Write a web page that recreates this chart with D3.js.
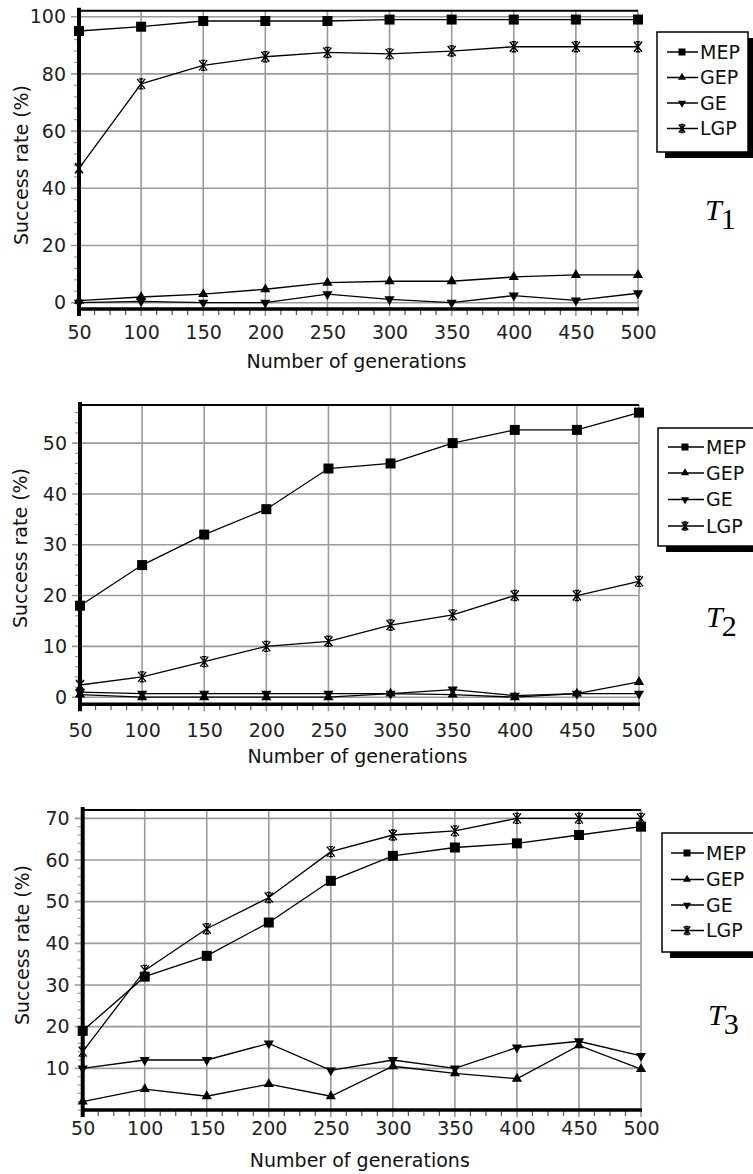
<!DOCTYPE html>
<html>
<head>
<meta charset="utf-8">
<script src="https://cdn.jsdelivr.net/npm/d3@7/dist/d3.min.js"></script>
<style>
  body { margin: 0; background: #fff; }
  svg { display: block; }
</style>
</head>
<body>
<div id="chart"></div>
<script>
// x values shared by all three panels
const generations = [50, 100, 150, 200, 250, 300, 350, 400, 450, 500];
const seriesNames = ["MEP", "GEP", "GE", "LGP"];

// T1
const t1MEP = [95, 96.5, 98.5, 98.5, 98.5, 99, 99, 99, 99, 99];
const t1GEP = [0.7, 2, 3, 4.7, 7, 7.5, 7.5, 9, 9.7, 9.7];
const t1GE  = [0, 0.5, 0, 0, 3, 1.2, 0, 2.5, 0.8, 3.3];
const t1LGP = [47, 76.5, 83, 86, 87.5, 87, 88, 89.5, 89.5, 89.5];
const t1YTicks = [0, 20, 40, 60, 80, 100];

// T2
const t2MEP = [18, 26, 32, 37, 45, 46, 50, 52.6, 52.6, 56];
const t2GEP = [0.5, 0, 0, 0, 0, 0.7, 0.5, 0, 0.7, 3];
const t2GE  = [1, 0.7, 0.7, 0.7, 0.7, 0.7, 1.5, 0.3, 0.7, 0.7];
const t2LGP = [2.4, 4, 7, 10, 11, 14.2, 16.2, 20, 20, 22.8];
const t2YTicks = [0, 10, 20, 30, 40, 50];

// T3
const t3MEP = [19, 32, 37, 45, 55, 61, 63, 64, 66, 68];
const t3GEP = [2, 5, 3.3, 6.2, 3.3, 10.5, 8.8, 7.5, 15.5, 9.8];
const t3GE  = [10, 12, 12, 16, 9.5, 12, 10, 15, 16.5, 13];
const t3LGP = [14, 33.5, 43.5, 51, 62, 66, 67, 70, 70, 70];
const t3YTicks = [10, 20, 30, 40, 50, 60, 70];

const font = "'DejaVu Sans', Verdana, sans-serif";

const svg = d3.select("#chart")
    .append("svg")
    .attr("width", 753)
    .attr("height", 1174);

svg.append("rect").attr("width", 753).attr("height", 1174).attr("fill", "#fff");

const panels = [
    {
        label: "1", series: [t1MEP, t1GEP, t1GE, t1LGP], yTicks: t1YTicks,
        yDomain: [-2.2, 102.1], yMinor: 4,
        left: 79, right: 638, top: 10.7, bottom: 309,
        xLabelY: 339, titleY: 368, yTitleX: 28, yTitleY: 165,
        legend: { x: 657, y: 32, w: 91, h: 120, rows: [52, 77.5, 103, 128.5], lx: 667, mx: 682, tx: 700 },
        tx: 705, ty: 220
    },
    {
        label: "2", series: [t2MEP, t2GEP, t2GE, t2LGP], yTicks: t2YTicks,
        yDomain: [-1.4, 57.5], yMinor: 2,
        left: 80, right: 639, top: 405, bottom: 704.3,
        xLabelY: 737, titleY: 763, yTitleX: 27, yTitleY: 548,
        legend: { x: 658, y: 428, w: 100, h: 118, rows: [447, 473, 499.5, 526], lx: 668, mx: 685, tx: 706 },
        tx: 706, ty: 627
    },
    {
        label: "3", series: [t3MEP, t3GEP, t3GE, t3LGP], yTicks: t3YTicks,
        yDomain: [0, 72], yMinor: 2,
        left: 82.7, right: 641, top: 810, bottom: 1110,
        xLabelY: 1135, titleY: 1167, yTitleX: 29, yTitleY: 945,
        legend: { x: 662, y: 833, w: 100, h: 119, rows: [853, 879.5, 905, 930.5], lx: 671, mx: 687, tx: 706 },
        tx: 708, ty: 1025
    }
];

const lgpPath = (r) => `M${-r * 0.8},${-r}L${r * 0.8},${r}M${-r * 0.8},${r}L${r * 0.8},${-r}` +
    `M0,${-r}L0,${r}M${-r * 0.45},${-r}L${r * 0.45},${-r}M${-r * 0.45},${r}L${r * 0.45},${r}`;

function drawMarker(sel, i, big) {
    if (i === 0) {
        const s = big ? 10 : 7;
        sel.append("rect").attr("x", -s / 2).attr("y", -s / 2).attr("width", s).attr("height", s).attr("fill", "#000");
    } else if (i === 1 || i === 2) {
        const area = big ? 45 : 28;
        sel.append("path")
            .attr("d", d3.symbol(d3.symbolTriangle, area)())
            .attr("transform", i === 2 ? "rotate(180)" : null)
            .attr("fill", "#000");
    } else {
        sel.append("path")
            .attr("d", lgpPath(big ? 5 : 4))
            .attr("fill", "none")
            .attr("stroke", "#000")
            .attr("stroke-width", 1.4);
    }
}

function drawPanel(p) {
    const g = svg.append("g");
    const x = d3.scaleLinear().domain([50, 500]).range([p.left, p.right]);
    const y = d3.scaleLinear().domain(p.yDomain).range([p.bottom, p.top]);

    // minor y ticks
    const minorY = d3.range(0, p.yDomain[1], p.yMinor).filter(v => !p.yTicks.includes(v));
    g.selectAll(".ymin").data(minorY).join("line")
        .attr("x1", p.left - 5).attr("x2", p.left)
        .attr("y1", d => y(d)).attr("y2", d => y(d))
        .attr("stroke", "#999").attr("stroke-width", 1.2);

    // horizontal gridlines
    g.selectAll(".hgrid").data(p.yTicks).join("line")
        .attr("x1", p.left - 8).attr("x2", p.right)
        .attr("y1", d => y(d)).attr("y2", d => y(d))
        .attr("stroke", "#9a9a9a").attr("stroke-width", 1.6);

    // vertical gridlines
    g.selectAll(".vgrid").data(generations.slice(1)).join("line")
        .attr("x1", d => x(d)).attr("x2", d => x(d))
        .attr("y1", p.top).attr("y2", p.bottom + 7)
        .attr("stroke", "#9a9a9a").attr("stroke-width", 1.6);

    // minor x ticks
    const minorX = d3.range(50, 500, 12.5).filter(v => v % 50 !== 0);
    g.selectAll(".xmin").data(minorX).join("line")
        .attr("x1", d => x(d)).attr("x2", d => x(d))
        .attr("y1", p.bottom).attr("y2", p.bottom + 6)
        .attr("stroke", "#555").attr("stroke-width", 1.2);

    // frame
    g.append("line").attr("x1", p.left).attr("x2", p.right).attr("y1", p.top).attr("y2", p.top)
        .attr("stroke", "#000").attr("stroke-width", 2);
    g.append("line").attr("x1", p.left).attr("x2", p.right + 1).attr("y1", p.bottom).attr("y2", p.bottom)
        .attr("stroke", "#000").attr("stroke-width", 3.5);
    g.append("line").attr("x1", p.left).attr("x2", p.left).attr("y1", p.top - 3).attr("y2", p.bottom + 7)
        .attr("stroke", "#000").attr("stroke-width", 4);

    // series
    const line = d3.line().x((d, i) => x(generations[i])).y(d => y(d));
    p.series.forEach((vals, si) => {
        g.append("path").attr("d", line(vals))
            .attr("fill", "none").attr("stroke", "#000").attr("stroke-width", 1.3);
        vals.forEach((v, i) => {
            const m = g.append("g").attr("transform", `translate(${x(generations[i])},${y(v)})`);
            drawMarker(m, si, true);
        });
    });

    // axes labels
    const yAxis = g.append("g").attr("transform", `translate(${p.left},0)`)
        .call(d3.axisLeft(y).tickValues(p.yTicks).tickSize(0).tickPadding(13));
    yAxis.select(".domain").remove();
    yAxis.selectAll("text").attr("font-family", font).attr("font-size", 19).attr("fill", "#222");

    const xAxis = g.append("g").attr("transform", `translate(0,${p.xLabelY})`)
        .call(d3.axisBottom(x).tickValues(generations).tickSize(0).tickPadding(0));
    xAxis.select(".domain").remove();
    xAxis.selectAll("text").attr("dy", 0).attr("y", 0)
        .attr("font-family", font).attr("font-size", 19).attr("fill", "#222");

    g.append("text").attr("x", (p.left + p.right) / 2 - 2).attr("y", p.titleY)
        .attr("text-anchor", "middle").attr("font-family", font).attr("font-size", 19).attr("fill", "#111")
        .text("Number of generations");

    g.append("text")
        .attr("transform", `translate(${p.yTitleX},${p.yTitleY}) rotate(-90)`)
        .attr("text-anchor", "middle").attr("font-family", font).attr("font-size", 19).attr("fill", "#111")
        .text("Success rate (%)");

    // legend
    const L = p.legend;
    g.append("rect").attr("x", L.x + 8).attr("y", L.y + 6).attr("width", L.w).attr("height", L.h).attr("fill", "#000");
    g.append("rect").attr("x", L.x).attr("y", L.y).attr("width", L.w).attr("height", L.h)
        .attr("fill", "#fff").attr("stroke", "#000").attr("stroke-width", 1.5);
    seriesNames.forEach((name, i) => {
        const ry = L.rows[i];
        g.append("line").attr("x1", L.lx).attr("x2", L.tx - 2).attr("y1", ry).attr("y2", ry)
            .attr("stroke", "#000").attr("stroke-width", 1.5);
        const m = g.append("g").attr("transform", `translate(${L.mx},${ry})`);
        drawMarker(m, i, false);
        g.append("text").attr("x", L.tx).attr("y", ry).attr("dy", "0.36em")
            .attr("font-family", font).attr("font-size", 19).attr("fill", "#111")
            .text(name);
    });

    // T label
    const t = g.append("text").attr("x", p.tx).attr("y", p.ty)
        .attr("font-family", "'Liberation Serif', 'Times New Roman', serif").attr("font-size", 30).attr("fill", "#000");
    t.append("tspan").attr("font-style", "italic").text("T");
    t.append("tspan").attr("dy", 9).attr("dx", -1).text(p.label);
}

panels.forEach(drawPanel);
</script>
</body>
</html>
